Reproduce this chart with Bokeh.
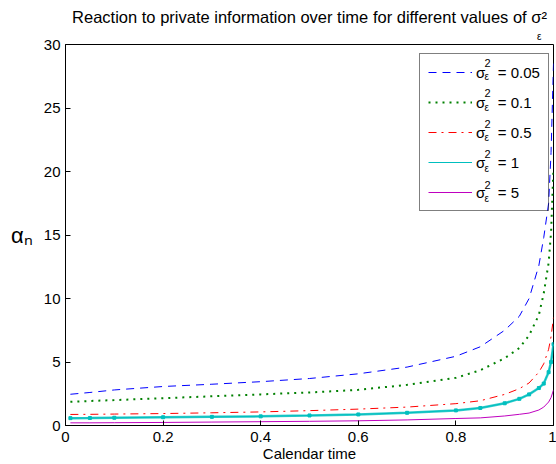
from bokeh.plotting import figure
from bokeh.models import Legend, LegendItem, Label, FixedTicker, Range1d, Title
from bokeh.embed import file_html
from bokeh.resources import INLINE

# ---- data ----
calendar_time = [0.01, 0.05, 0.1, 0.2, 0.3, 0.4, 0.5, 0.6, 0.7, 0.8, 0.85, 0.9,
                 0.93, 0.95, 0.97, 0.98, 0.99, 0.995, 1.0]
alpha_s005 = [2.46, 2.6, 2.8, 3.07, 3.25, 3.45, 3.7, 4.07, 4.6, 5.45, 6.2, 7.5,
              8.6, 10.0, 12.6, 14.8, 17.5, 21.5, 28.5]
alpha_s01 = [1.87, 1.93, 2.0, 2.15, 2.3, 2.45, 2.6, 2.81, 3.2, 3.75, 4.35, 5.3,
             6.1, 7.1, 8.7, 10.4, 12.8, 15.2, 20.3]
alpha_s05 = [0.87, 0.88, 0.9, 0.94, 1.0, 1.07, 1.17, 1.29, 1.45, 1.72, 1.95, 2.45,
             2.9, 3.35, 4.2, 4.86, 6.0, 7.0, 8.5]
alpha_s1 = [0.58, 0.59, 0.61, 0.65, 0.68, 0.72, 0.79, 0.87, 1.0, 1.19, 1.38, 1.75,
            2.1, 2.45, 2.95, 3.3, 4.2, 5.0, 6.4]
alpha_s5 = [0.21, 0.21, 0.22, 0.24, 0.27, 0.3, 0.33, 0.37, 0.44, 0.55, 0.6, 0.75,
            0.88, 0.98, 1.22, 1.45, 1.85, 2.2, 2.8]
legend_values = ["0.05", "0.1", "0.5", "1", "5"]
x_ticks = [0, 0.2, 0.4, 0.6, 0.8, 1]
y_ticks = [0, 5, 10, 15, 20, 25, 30]
x_tick_labels = {0: "0", 0.2: "0.2", 0.4: "0.4", 0.6: "0.6", 0.8: "0.8", 1: "1"}

FONT = "Liberation Sans"
W, H = 556, 464
FL, FR, FT, FB = 65, 553, 44, 425  # frame edges in canvas px
XMAX, YMAX = 1.0, 30.0


def sx(cx):
    return cx - FL


def sy(cy):
    return FB - cy


def dx(cx):
    return (cx - FL) / (FR - FL) * XMAX


def dy(cy):
    return (FB - cy) / (FB - FT) * YMAX


p = figure(width=W, height=H, output_backend="svg", toolbar_location=None,
           x_range=Range1d(0, XMAX), y_range=Range1d(0, YMAX),
           min_border_left=FL, min_border_right=W - FR,
           min_border_top=FT, min_border_bottom=H - FB)
p.background_fill_color = "white"
p.border_fill_color = "white"
p.outline_line_color = "black"
p.outline_line_width = 1
p.xgrid.visible = False
p.ygrid.visible = False

xax = p.below[0]
yax = p.left[0]
for ax, ticks in ((xax, x_ticks), (yax, y_ticks)):
    ax.ticker = FixedTicker(ticks=ticks)
    ax.major_tick_in = 5
    ax.major_tick_out = 0
    ax.minor_tick_line_color = None
    ax.major_label_text_font = FONT
    ax.major_label_text_font_size = "15px"
    ax.major_label_text_color = "black"
    ax.axis_line_color = "black"
    ax.major_tick_line_color = "black"
xax.major_label_overrides = x_tick_labels
xax.major_label_standoff = 6
yax.major_label_standoff = 5

# ---- curves ----
r1 = p.line(calendar_time, alpha_s005, line_color="#0000FF", line_width=1,
            line_dash="8 6")
r2 = p.line(calendar_time, alpha_s01, line_color="#008000", line_width=2,
            line_dash="2 5")
r3 = p.line(calendar_time, alpha_s05, line_color="#FF0000", line_width=1,
            line_dash="8 5 2 5")
p.line(calendar_time, alpha_s1, line_color="#00BFBF", line_width=2.5, line_alpha=0.8)
r4 = p.line(calendar_time, alpha_s1, line_color="#00BFBF", line_width=1)
p.scatter(calendar_time, alpha_s1, marker="square", size=3,
          fill_color="#00BFBF", line_color="#00BFBF")
r5 = p.line(calendar_time, alpha_s5, line_color="#BF00BF", line_width=1)

items = [
    LegendItem(label="σ\u00a0\u00a0\u00a0= " + legend_values[0], renderers=[r1]),
    LegendItem(label="σ\u00a0\u00a0\u00a0= " + legend_values[1], renderers=[r2]),
    LegendItem(label="σ\u00a0\u00a0\u00a0= " + legend_values[2], renderers=[r3]),
    LegendItem(label="σ\u00a0\u00a0\u00a0= " + legend_values[3], renderers=[r4]),
    LegendItem(label="σ\u00a0\u00a0\u00a0= " + legend_values[4], renderers=[r5]),
]
legend = Legend(items=items, location=(sx(419), sy(211)), margin=0, padding=8,
                spacing=10, label_height=20, glyph_height=20, glyph_width=44,
                label_standoff=4, label_text_font=FONT, label_text_font_size="15px",
                label_text_color="black",
                border_line_color="black", border_line_width=1,
                background_fill_alpha=0)
p.add_layout(legend)

# title (with superscript 2) and its small subscript epsilon
p.title.text = "Reaction to private information over time for different values of σ²"
p.title.text_font = FONT
p.title.text_font_size = "16.5px"
p.title.text_font_style = "normal"
p.title.text_color = "black"
p.title.align = "center"
p.title.standoff = 0
eps = Title(text="ε", align="right", offset=12, standoff=6, text_font=FONT,
            text_font_size="10px", text_font_style="normal", text_color="black")
p.add_layout(eps, "above")

xax.axis_label = "Calendar time"
xax.axis_label_text_font = FONT
xax.axis_label_text_font_size = "15px"
xax.axis_label_text_font_style = "normal"
xax.axis_label_text_color = "black"
xax.axis_label_standoff = 0
yax.axis_label = "αₙ"
yax.axis_label_orientation = "horizontal"
yax.axis_label_text_font = FONT
yax.axis_label_text_font_size = "22px"
yax.axis_label_text_font_style = "normal"
yax.axis_label_text_color = "black"
yax.axis_label_standoff = 8


def add_text(cx, cy, text, size):
    lab = Label(x=dx(cx), y=dy(cy), text=text, text_font_size=size,
                text_baseline="middle", text_align="left", text_color="black")
    p.add_layout(lab)


for i in range(5):
    rc = 70.7 + 30.5 * i
    add_text(484, rc - 8.5, "2", "11px")
    add_text(484, rc + 5.5, "ε", "10px")

open("out.html", "w").write(file_html(p, INLINE))
